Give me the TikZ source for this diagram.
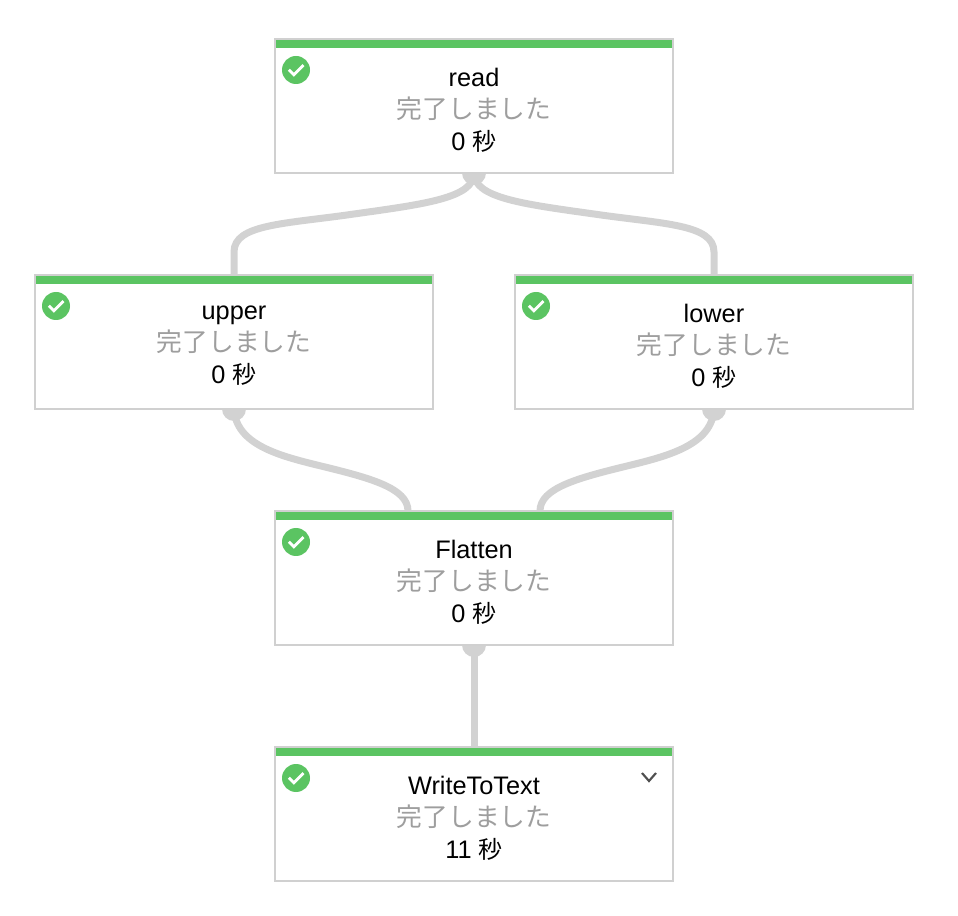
\documentclass[tikz,border=0pt]{standalone}
\usepackage{fontspec}
\setmainfont{Liberation Sans}
\newfontfamily\jpfont{Noto Sans CJK JP}
\usetikzlibrary{positioning, calc, backgrounds}
\definecolor{donegreen}{RGB}{91,196,98}
\definecolor{edgegray}{RGB}{210,210,210}
\definecolor{framegray}{RGB}{208,208,208}
\definecolor{stategray}{RGB}{158,158,158}
\definecolor{chevrongray}{RGB}{80,80,80}
\newcommand{\stateja}{{\jpfont\fontsize{19.3}{24}\selectfont\color{stategray}完了しました}}
\newcommand{\secja}{{\jpfont\fontsize{18}{24}\selectfont 秒}}

\begin{document}
\begin{tikzpicture}[
  x=0.75pt, y=-0.75pt,
  stagebox/.style={draw=framegray, fill=white, line width=1.5pt, outer sep=0pt,
    minimum width=298.5pt, minimum height=100.5pt},
  stagebar/.style={fill=donegreen, inner sep=0pt, minimum width=297pt, minimum height=6pt},
  stagetext/.style={align=center, inner sep=0pt, font=\fontsize{19}{24}\selectfont,
    execute at begin node=\rule{0pt}{16pt}},
  donecheck/.style={circle, fill=donegreen, inner sep=0pt, minimum size=21pt,
    path picture={\draw[white, line width=2.1pt]
      ([shift={(-5.4pt,0.2pt)}]path picture bounding box.center) --
      ([shift={(-1.6pt,-3.6pt)}]path picture bounding box.center) --
      ([shift={(5.6pt,3.6pt)}]path picture bounding box.center);}},
  port/.style={circle, fill=edgegray, inner sep=0pt, minimum size=18pt},
  edge/.style={draw=edgegray, line width=5.25pt}
]
  \useasboundingbox (0,0) rectangle (958,916);

  \node[stagebox] (read) at (474,106) {};
  \node[stagebox] (upper) at (234,342) {};
  \node[stagebox] (lower) at (714,342) {};
  \node[stagebox] (flatten) at (474,578) {};
  \node[stagebox] (write) at (474,814) {};

  \node[stagebar, below=0.75pt of read.north] (readbar) {};
  \node[stagebar, below=0.75pt of upper.north] (upperbar) {};
  \node[stagebar, below=0.75pt of lower.north] (lowerbar) {};
  \node[stagebar, below=0.75pt of flatten.north] (flattenbar) {};
  \node[stagebar, below=0.75pt of write.north] (writebar) {};

  \node[donecheck] (readcheck) at ($(read)+(-178,-36)$) {};
  \node[donecheck] (uppercheck) at ($(upper)+(-178,-36)$) {};
  \node[donecheck] (lowercheck) at ($(lower)+(-178,-36)$) {};
  \node[donecheck] (flattencheck) at ($(flatten)+(-178,-36)$) {};
  \node[donecheck] (writecheck) at ($(write)+(-178,-36)$) {};

  \node[stagetext] (readtext) at ($(read)+(0,4)$) {read\\\stateja\\0 \secja};
  \node[stagetext] (uppertext) at ($(upper)+(0,4)$) {upper\\\stateja\\0 \secja};
  \node[stagetext] (lowertext) at ($(lower)+(0,4)$) {lower\\\stateja\\0 \secja};
  \node[stagetext] (flattentext) at ($(flatten)+(0,4)$) {Flatten\\\stateja\\0 \secja};
  \node[stagetext] (writetext) at ($(write)+(0,4)$) {WriteToText\\\stateja\\11 \secja};

  \draw[chevrongray, line width=1.6pt] ($(write)+(168,-41)$) -- ($(write)+(175,-33)$) -- ($(write)+(182,-41)$);

  \begin{scope}[on background layer]
    \node[port] (readport) at (read.south) {};
    \node[port] (upperport) at (upper.south) {};
    \node[port] (lowerport) at (lower.south) {};
    \node[port] (flattenport) at (flatten.south) {};
    \draw[edge] (read.south) .. controls (474,198) and (425,204) .. (354,214) .. controls (285,224) and (234,224) .. (234,252) -- (upper.north);
    \draw[edge] (read.south) .. controls (474,198) and (523,204) .. (594,214) .. controls (663,224) and (714,224) .. (714,252) -- (lower.north);
    \draw[edge] (upper.south) .. controls (236,445) and (280,456) .. (321,466) .. controls (370,478) and (408,488) .. ($(flatten.north)+(-66,0)$);
    \draw[edge] (lower.south) .. controls (712,445) and (668,456) .. (627,466) .. controls (578,478) and (540,488) .. ($(flatten.north)+(66,0)$);
    \draw[edge] (flatten.south) -- (write.north);
  \end{scope}
\end{tikzpicture}
\end{document}
